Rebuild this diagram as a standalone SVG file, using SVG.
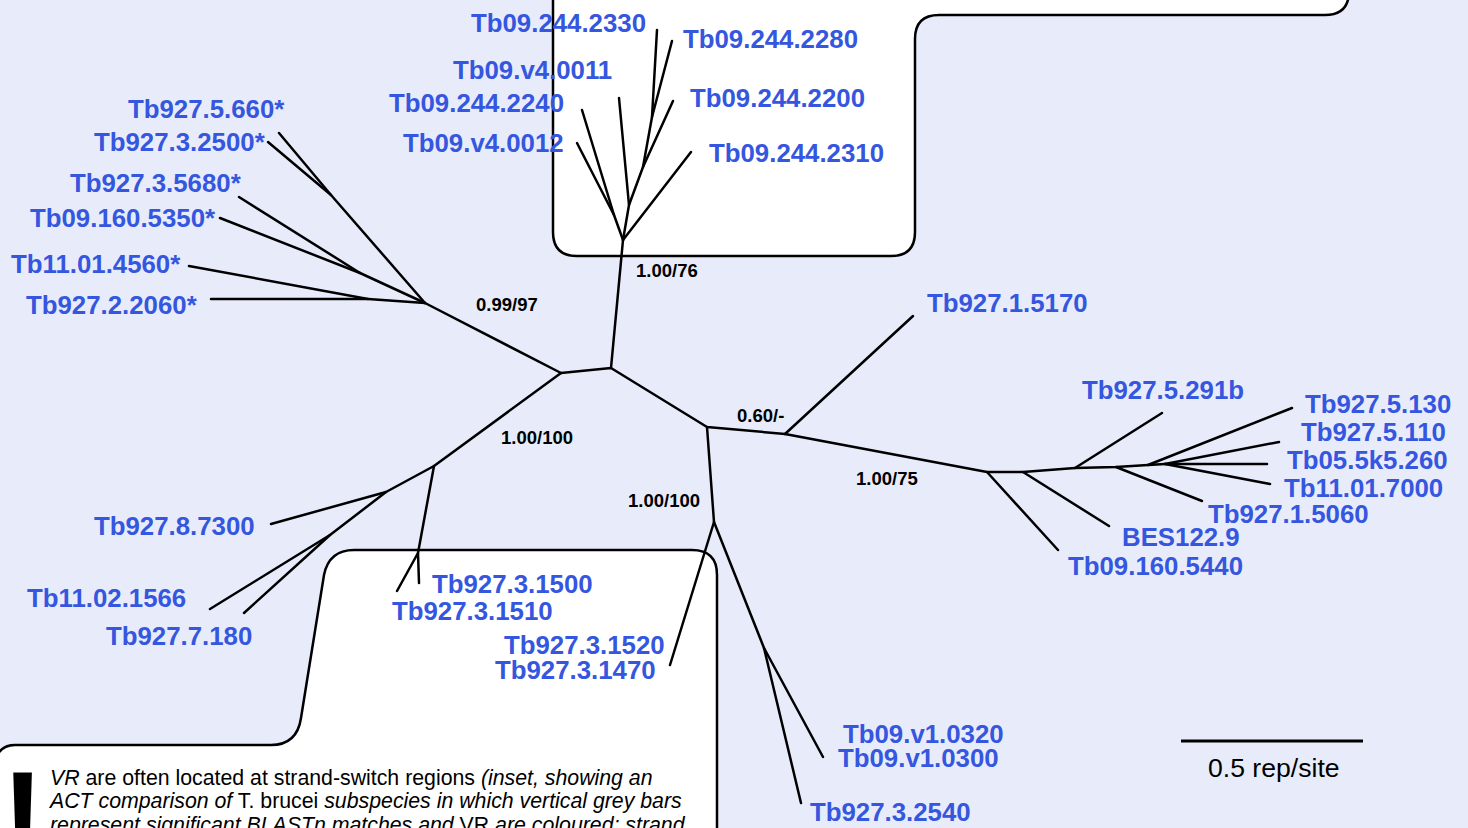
<svg xmlns="http://www.w3.org/2000/svg" width="1468" height="828" viewBox="0 0 1468 828">
<style>
.lbl{font-family:"Liberation Sans",Arial,sans-serif;font-weight:bold;font-size:25.8px;fill:#3556de}
.sup{font-family:"Liberation Sans",Arial,sans-serif;font-weight:bold;font-size:18.5px;fill:#000}
.br{stroke:#000;stroke-width:2.5;fill:none;stroke-linecap:round;stroke-linejoin:round}
.box{fill:#fff;stroke:#000;stroke-width:2.5}
.note{font-family:"Liberation Sans",Arial,sans-serif;font-size:21.3px;fill:#000}
</style>
<rect x="0" y="0" width="1468" height="828" fill="#e8ecfa"/>
<g id="inset-top">
<path class="box" d="M553,-5 L553,232 Q553,256 577,256 L891,256 Q915,256 915,232 L915,39 Q915,15 939,15 L1325,15 Q1349,15 1349,-9"/>
</g>
<g id="inset-bottom">
<path class="box" d="M-5,760 Q0,745 15,745 L271,745 Q297,745 301,718 L324,575 Q329,550 354,550 L692,550 Q717,550 717,575 L717,840 L-5,840 Z"/>
</g>
<g id="connectors">
<path class="br" d="M561,373 L611,368 L707,427 L785,434"/>
<path class="br" d="M611,368 L623,240"/>
<path class="br" d="M623,240 L629,205 L643,167 L652,117 L657,30"/>
<path class="br" d="M652,117 L672,41"/>
<path class="br" d="M643,167 L673,101"/>
<path class="br" d="M629,205 L619,98"/>
<path class="br" d="M623,240 L691,152"/>
<path class="br" d="M623,240 L614,215 L582,110"/>
<path class="br" d="M614,215 L577,143"/>
<path class="br" d="M561,373 L425,303"/>
<path class="br" d="M425,303 L331,195 L279,133"/>
<path class="br" d="M331,195 L268,142"/>
<path class="br" d="M425,303 L360,273 L239,197"/>
<path class="br" d="M360,273 L220,218"/>
<path class="br" d="M425,303 L368,299 L211,299"/>
<path class="br" d="M368,299 L189,266"/>
<path class="br" d="M561,373 L434,466 L386,492 L271,524"/>
<path class="br" d="M386,492 L330,535 L210,609"/>
<path class="br" d="M330,535 L244,613"/>
<path class="br" d="M434,466 L418,553 L419,583"/>
<path class="br" d="M418,553 L397,591"/>
<path class="br" d="M707,427 L714,522 L670,665"/>
<path class="br" d="M714,522 L764,648 L823,757"/>
<path class="br" d="M764,648 L801,803"/>
<path class="br" d="M785,434 L913,316"/>
<path class="br" d="M785,434 L987,472 L1023,472 L1075,468 L1116,467 L1148,465 L1165,464 L1267,464"/>
<path class="br" d="M987,472 L1058,550"/>
<path class="br" d="M1023,472 L1109,526"/>
<path class="br" d="M1075,468 L1162,413"/>
<path class="br" d="M1116,467 L1202,501"/>
<path class="br" d="M1148,465 L1292,408"/>
<path class="br" d="M1165,464 L1279,442"/>
<path class="br" d="M1165,464 L1270,484"/>
<path d="M1181,741 L1363,741" stroke="#000" stroke-width="3"/>
</g>
<g id="labels-top">
<text class="lbl" x="471" y="32">Tb09.244.2330</text>
<text class="lbl" x="683" y="48">Tb09.244.2280</text>
<text class="lbl" x="453" y="79">Tb09.v4.0011</text>
<text class="lbl" x="389" y="112">Tb09.244.2240</text>
<text class="lbl" x="690" y="107">Tb09.244.2200</text>
<text class="lbl" x="403" y="152">Tb09.v4.0012</text>
<text class="lbl" x="709" y="162">Tb09.244.2310</text>
</g>
<g id="labels-left">
<text class="lbl" x="128" y="118">Tb927.5.660*</text>
<text class="lbl" x="94" y="151">Tb927.3.2500*</text>
<text class="lbl" x="70" y="192">Tb927.3.5680*</text>
<text class="lbl" x="30" y="227">Tb09.160.5350*</text>
<text class="lbl" x="11" y="273">Tb11.01.4560*</text>
<text class="lbl" x="26" y="314">Tb927.2.2060*</text>
</g>
<g id="labels-bottom-left">
<text class="lbl" x="94" y="535">Tb927.8.7300</text>
<text class="lbl" x="27" y="607">Tb11.02.1566</text>
<text class="lbl" x="106" y="645">Tb927.7.180</text>
<text class="lbl" x="432" y="593">Tb927.3.1500</text>
<text class="lbl" x="392" y="620">Tb927.3.1510</text>
<text class="lbl" x="504" y="654">Tb927.3.1520</text>
<text class="lbl" x="495" y="679">Tb927.3.1470</text>
</g>
<g id="labels-bottom-middle">
<text class="lbl" x="843" y="743">Tb09.v1.0320</text>
<text class="lbl" x="838" y="767">Tb09.v1.0300</text>
<text class="lbl" x="810" y="821">Tb927.3.2540</text>
</g>
<g id="labels-right">
<text class="lbl" x="927" y="312">Tb927.1.5170</text>
<text class="lbl" x="1082" y="399">Tb927.5.291b</text>
<text class="lbl" x="1305" y="413">Tb927.5.130</text>
<text class="lbl" x="1301" y="441">Tb927.5.110</text>
<text class="lbl" x="1287" y="469">Tb05.5k5.260</text>
<text class="lbl" x="1284" y="497">Tb11.01.7000</text>
<text class="lbl" x="1208" y="523">Tb927.1.5060</text>
<text class="lbl" x="1122" y="546">BES122.9</text>
<text class="lbl" x="1068" y="575">Tb09.160.5440</text>
</g>
<g id="support">
<text class="sup" x="636" y="277">1.00/76</text>
<text class="sup" x="476" y="311">0.99/97</text>
<text class="sup" x="501" y="444">1.00/100</text>
<text class="sup" x="737" y="422">0.60/-</text>
<text class="sup" x="856" y="485">1.00/75</text>
<text class="sup" x="628" y="507">1.00/100</text>
</g>
<g id="scale">
<text x="1208" y="777" font-family="Liberation Sans,Arial,sans-serif" font-size="26.6" fill="#000">0.5 rep/site</text>
</g>
<g id="note">
<text x="1" y="862" font-family="Liberation Sans,Arial,sans-serif" font-weight="bold" font-size="130" fill="#000">!</text>
<text class="note" x="50" y="785"><tspan font-style="italic">VR</tspan> are often located at strand-switch regions <tspan font-style="italic">(inset, showing an</tspan></text>
<text class="note" x="50" y="808"><tspan font-style="italic">ACT comparison of</tspan> T. brucei <tspan font-style="italic">subspecies in which vertical grey bars</tspan></text>
<text class="note" x="50" y="832"><tspan font-style="italic">represent significant BLASTn matches and</tspan> VR <tspan font-style="italic">are coloured; strand</tspan></text>
</g>
</svg>
